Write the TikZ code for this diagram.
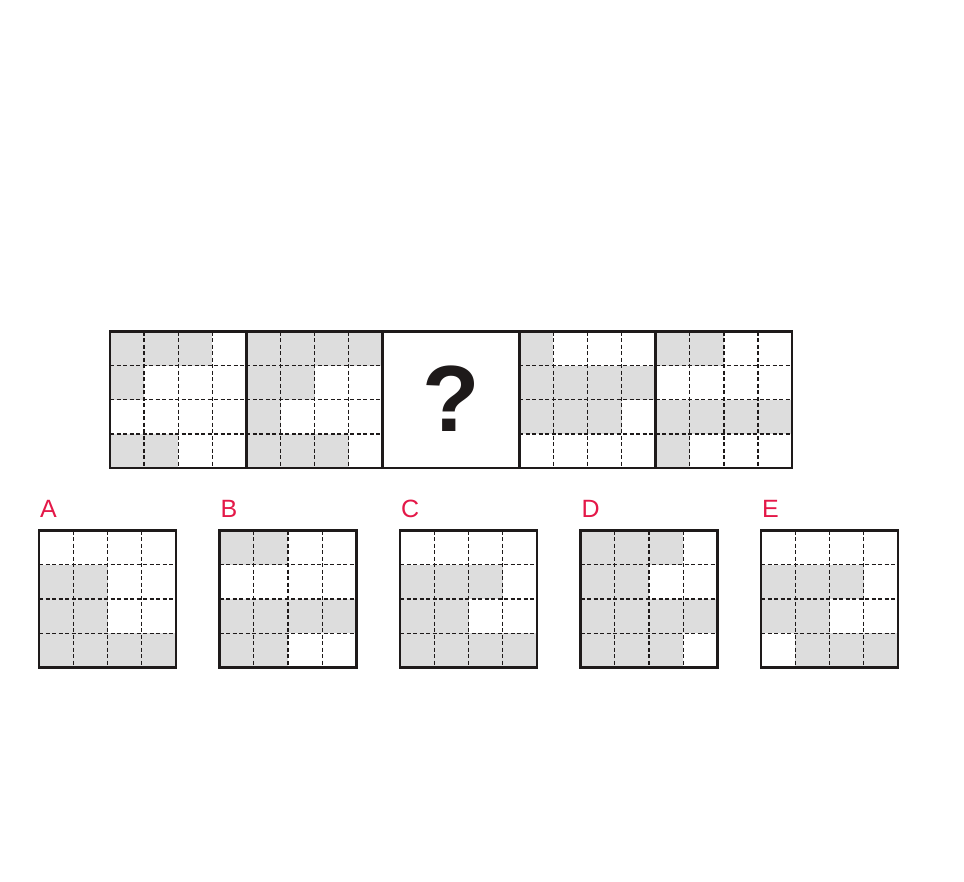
\documentclass[tikz,border=0pt]{standalone}
\usepackage{fontspec}
\setmainfont{Liberation Sans}
\definecolor{cellgray}{RGB}{221,221,221}
\definecolor{lblred}{RGB}{228,24,72}
\definecolor{lineblk}{RGB}{30,26,26}
\newcommand\gridbox[4]{%
  \foreach \r/\c in {#4} {
    \fill[cellgray] ({#1+\c*#3/4},{#2+\r*#3/4}) rectangle +({#3/4},{#3/4});
  }
  \foreach \k in {1,2,3} {
    \draw[gridline] ({#1+\k*#3/4},#2) -- ++(0,#3);
    \draw[gridline] (#1,{#2+\k*#3/4}) -- ++(#3,0);
  }
  \draw[boxline] (#1,#2) rectangle ++(#3,#3);
}
\begin{document}
\begin{tikzpicture}[x=1pt,y=-1pt,
  gridline/.style={draw=lineblk,line width=1.4pt,dash pattern=on 4pt off 2.5pt},
  boxline/.style={draw=lineblk,line width=2.8pt},
  lbl/.style={text=lblred,font=\fontsize{25}{25}\selectfont,anchor=south west,inner sep=0pt}]
\useasboundingbox (0,0) rectangle (964,881);
% top row
\gridbox{110}{331.5}{136.4}{0/0,0/1,0/2,1/0,3/0,3/1}
\gridbox{246.4}{331.5}{136.4}{0/0,0/1,0/2,0/3,1/0,1/1,2/0,3/0,3/1,3/2}
\draw[boxline] (382.8,331.5) rectangle ++(136.4,136.4);
\gridbox{519.2}{331.5}{136.4}{0/0,1/0,1/1,1/2,1/3,2/0,2/1,2/2}
\gridbox{655.6}{331.5}{136.4}{0/0,0/1,2/0,2/1,2/2,2/3,3/0}
\node[font=\fontsize{94}{94}\selectfont\bfseries,text=lineblk] (q) at (451,399) {?};
% options
\gridbox{39}{530.5}{137}{1/0,1/1,2/0,2/1,3/0,3/1,3/2,3/3}
\gridbox{219.5}{530.5}{137}{0/0,0/1,2/0,2/1,2/2,2/3,3/0,3/1}
\gridbox{400}{530.5}{137}{1/0,1/1,1/2,2/0,2/1,3/0,3/1,3/2,3/3}
\gridbox{580.5}{530.5}{137}{0/0,0/1,0/2,1/0,1/1,2/0,2/1,2/2,2/3,3/0,3/1,3/2}
\gridbox{761}{530.5}{137}{1/0,1/1,1/2,2/0,2/1,3/1,3/2,3/3}
\node[lbl] (la) at (40,517.5) {A};
\node[lbl] (lb) at (220.5,517.5) {B};
\node[lbl] (lc) at (401,517.5) {C};
\node[lbl] (ld) at (581.5,517.5) {D};
\node[lbl] (le) at (762,517.5) {E};
\end{tikzpicture}
\end{document}
